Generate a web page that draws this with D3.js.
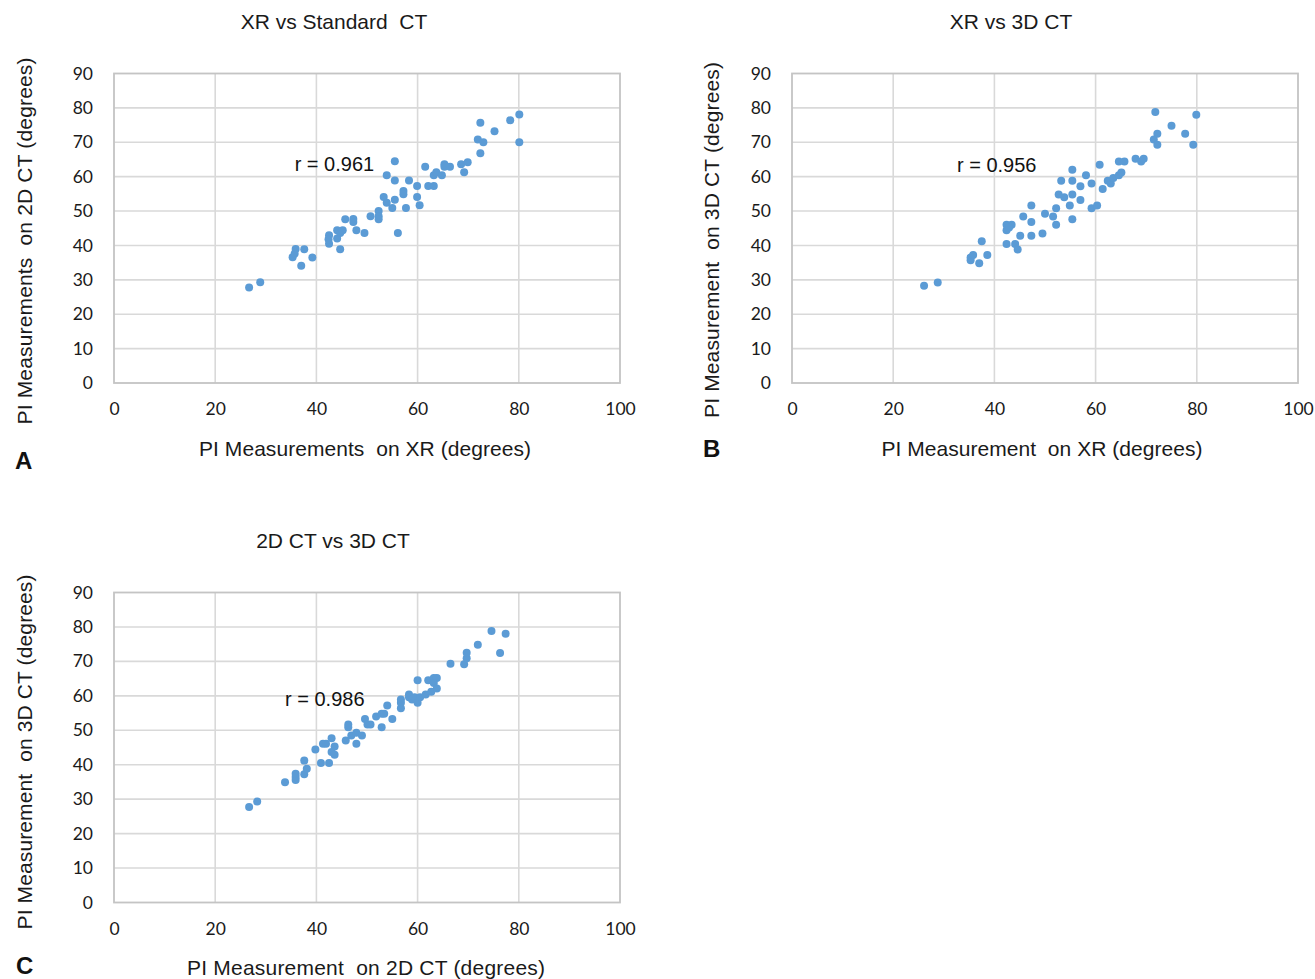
<!DOCTYPE html>
<html>
<head>
<meta charset="utf-8">
<script src="https://cdn.jsdelivr.net/npm/d3@7"></script>
<style>
  html, body { margin: 0; padding: 0; background: #fff; }
  svg { display: block; }
  .title, .axtitle { font-family: "Liberation Sans Narrow", "Arial Narrow", "Liberation Sans", sans-serif; fill: #1a1a1a; }
  .tick text { font-family: Lato, "Open Sans", sans-serif; fill: #1a1a1a; }
  .rlabel { font-family: "Liberation Sans", Arial, sans-serif; fill: #111; }
  .letter { font-family: "Liberation Sans", Arial, sans-serif; font-weight: bold; fill: #111; }
</style>
</head>
<body>
<svg id="chart" width="1315" height="979"></svg>
<script>
// ---- data ----
const xTicks = [0, 20, 40, 60, 80, 100];
const yTicks = [0, 10, 20, 30, 40, 50, 60, 70, 80, 90];

// Panel A: XR vs Standard (2D) CT
const aX = [26.7,28.9,35.9,35.3,35.7,37.6,37.0,39.2,42.5,42.5,42.4,44.1,44.1,44.7,45.2,44.7,45.7,47.3,47.3,47.9,49.5,50.7,52.3,52.3,52.3,53.3,53.9,55.0,55.5,53.9,55.5,55.5,56.1,57.2,57.2,57.7,58.3,59.9,59.9,60.4,61.5,62.1,63.2,63.2,63.7,64.8,65.3,65.3,66.4,68.6,69.2,69.9,71.9,73.0,72.4,72.4,75.2,78.3,80.1,80.1];
const aY = [27.8,29.3,39.0,36.6,37.6,38.9,34.1,36.5,43.0,40.5,41.8,44.4,42.0,43.6,44.4,38.9,47.6,47.7,46.8,44.4,43.6,48.5,50.0,48.5,47.6,54.1,52.4,50.9,53.3,60.4,64.5,58.9,43.6,55.8,54.9,50.9,58.9,57.3,54.1,51.7,62.9,57.3,57.3,60.4,61.3,60.4,63.6,62.9,62.9,63.6,61.3,64.2,70.8,70.0,66.8,75.7,73.2,76.4,78.1,70.0];

// Panel B: XR vs 3D CT
const bX = [26.1,28.8,35.3,35.3,35.8,37.0,37.5,38.6,42.4,42.4,42.4,43.4,42.9,44.1,44.6,45.1,45.7,47.3,47.3,47.3,49.5,50.0,51.6,52.2,52.2,52.7,53.8,53.2,55.4,55.4,55.4,54.9,55.4,57.0,57.0,58.1,59.2,59.2,60.3,60.8,61.4,62.4,63.0,63.5,64.6,65.1,64.6,65.7,67.9,69.0,69.5,71.8,72.2,71.5,72.2,75.0,77.7,79.9,79.3];
const bY = [28.3,29.2,35.7,36.5,37.2,34.8,41.2,37.2,40.4,44.4,46.0,46.0,45.2,40.4,38.8,42.8,48.4,51.6,46.8,42.8,43.5,49.2,48.4,50.8,46.0,54.8,54.0,58.8,62.0,58.8,54.8,51.6,47.6,57.2,53.2,60.4,58.0,50.8,51.6,63.5,56.4,58.8,58.0,59.6,60.4,61.2,64.4,64.4,65.2,64.4,65.2,78.8,72.5,70.8,69.3,74.8,72.5,78.0,69.3];

// Panel C: 2D CT vs 3D CT
const cX = [26.7,28.3,33.8,35.9,35.9,35.9,37.6,38.1,37.6,39.8,40.9,42.5,41.3,41.9,43.0,43.6,43.0,43.6,45.8,46.3,46.3,46.9,47.9,47.9,49.0,49.6,50.1,50.7,51.8,52.9,53.4,52.9,54.0,55.0,56.7,56.7,56.7,58.3,58.3,58.9,59.4,60.0,60.0,60.5,61.6,62.7,62.1,63.2,63.8,63.2,63.8,66.5,69.2,69.7,69.7,71.9,74.6,77.4,76.3];
const cY = [27.7,29.3,34.9,35.6,36.4,37.4,37.2,38.8,41.2,44.4,40.5,40.5,46.1,46.1,47.7,45.3,43.7,42.9,47.0,50.9,51.7,48.5,49.3,46.1,48.5,53.3,51.7,51.7,54.0,54.8,54.8,50.9,57.2,53.3,58.9,56.4,58.0,60.4,59.6,58.9,59.6,58.0,64.5,59.6,60.4,61.2,64.5,65.2,65.2,63.7,62.1,69.3,69.2,70.9,72.5,74.8,78.8,78.0,72.4];

// ---- layout ----
const panels = [
  { xs: aX, ys: aY, left: 114, right: 620, top: 73.5, bottom: 383,
    title: "XR vs Standard  CT", titleX: 334, titleY: 29,
    xLabel: "PI Measurements  on XR (degrees)", xLabelX: 365, xLabelY: 456, xLabelLen: 332,
    yLabel: "PI Measurements  on 2D CT (degrees)", yLabelX: 32, yLabelY: 241, yLabelLen: 367,
    rText: "r = 0.961", rAt: [35.7, 61.6],
    letter: "A", letterX: 15, letterY: 469 },
  { xs: bX, ys: bY, left: 792, right: 1298, top: 73.5, bottom: 383,
    title: "XR vs 3D CT", titleX: 1011, titleY: 29,
    xLabel: "PI Measurement  on XR (degrees)", xLabelX: 1042, xLabelY: 456, xLabelLen: 321,
    yLabel: "PI Measurement  on 3D CT (degrees)", yLabelX: 719, yLabelY: 240, yLabelLen: 356,
    rText: "r = 0.956", rAt: [32.6, 61.4],
    letter: "B", letterX: 703, letterY: 457 },
  { xs: cX, ys: cY, left: 114, right: 620, top: 592.5, bottom: 902.5,
    title: "2D CT vs 3D CT", titleX: 333, titleY: 548,
    xLabel: "PI Measurement  on 2D CT (degrees)", xLabelX: 366, xLabelY: 975, xLabelLen: 358,
    yLabel: "PI Measurement  on 3D CT (degrees)", yLabelX: 32, yLabelY: 752, yLabelLen: 355,
    rText: "r = 0.986", rAt: [33.8, 57.0],
    letter: "C", letterX: 16, letterY: 974 }
];

const svg = d3.select("#chart");

panels.forEach(p => {
  const x = d3.scaleLinear().domain([0, 100]).range([p.left, p.right]);
  const y = d3.scaleLinear().domain([0, 90]).range([p.bottom, p.top]);
  const g = svg.append("g");

  // gridlines
  g.append("g").selectAll("line.vg").data(xTicks.slice(1, -1)).join("line")
    .attr("x1", d => x(d)).attr("x2", d => x(d))
    .attr("y1", p.top).attr("y2", p.bottom)
    .attr("stroke", "#d9d9d9").attr("stroke-width", 1.6);
  g.append("g").selectAll("line.hg").data(yTicks.slice(1, -1)).join("line")
    .attr("y1", d => y(d)).attr("y2", d => y(d))
    .attr("x1", p.left).attr("x2", p.right)
    .attr("stroke", "#d9d9d9").attr("stroke-width", 1.6);
  // plot frame
  g.append("rect")
    .attr("x", p.left).attr("y", p.top)
    .attr("width", p.right - p.left).attr("height", p.bottom - p.top)
    .attr("fill", "none").attr("stroke", "#c4c4c4").attr("stroke-width", 1.8);

  // axes (labels only)
  const xAxis = g.append("g").attr("transform", `translate(0,${p.bottom + 20})`)
    .call(d3.axisBottom(x).tickValues(xTicks).tickSize(0).tickPadding(0));
  xAxis.select(".domain").remove();
  xAxis.selectAll("text").attr("font-size", 17.5).attr("dy", "0.71em").attr("fill", "#1a1a1a");

  const yAxis = g.append("g").attr("transform", `translate(${p.left - 21},0)`)
    .call(d3.axisLeft(y).tickValues(yTicks).tickSize(0).tickPadding(0));
  yAxis.select(".domain").remove();
  yAxis.selectAll("text").attr("font-size", 17.5).attr("fill", "#1a1a1a");

  // points
  const pts = p.xs.map((v, i) => [v, p.ys[i]]);
  g.append("g").selectAll("circle").data(pts).join("circle")
    .attr("cx", d => x(d[0])).attr("cy", d => y(d[1]))
    .attr("r", 4).attr("fill", "#5b9bd5");

  // r label
  g.append("text").attr("class", "rlabel")
    .attr("x", x(p.rAt[0])).attr("y", y(p.rAt[1]))
    .attr("font-size", 20).text(p.rText);

  // titles
  g.append("text").attr("class", "title")
    .attr("x", p.titleX).attr("y", p.titleY)
    .attr("text-anchor", "middle").attr("font-size", 21)
    .attr("xml:space", "preserve").style("white-space", "pre")
    .text(p.title);
  g.append("text").attr("class", "axtitle")
    .attr("x", p.xLabelX).attr("y", p.xLabelY)
    .attr("text-anchor", "middle").attr("font-size", 21)
    .attr("textLength", p.xLabelLen).attr("lengthAdjust", "spacing")
    .style("white-space", "pre")
    .text(p.xLabel);
  g.append("text").attr("class", "axtitle")
    .attr("transform", `translate(${p.yLabelX},${p.yLabelY}) rotate(-90)`)
    .attr("text-anchor", "middle").attr("font-size", 21)
    .attr("textLength", p.yLabelLen).attr("lengthAdjust", "spacing")
    .style("white-space", "pre")
    .text(p.yLabel);

  // panel letter
  g.append("text").attr("class", "letter")
    .attr("x", p.letterX).attr("y", p.letterY)
    .attr("font-size", 24).text(p.letter);
});
</script>
</body>
</html>
